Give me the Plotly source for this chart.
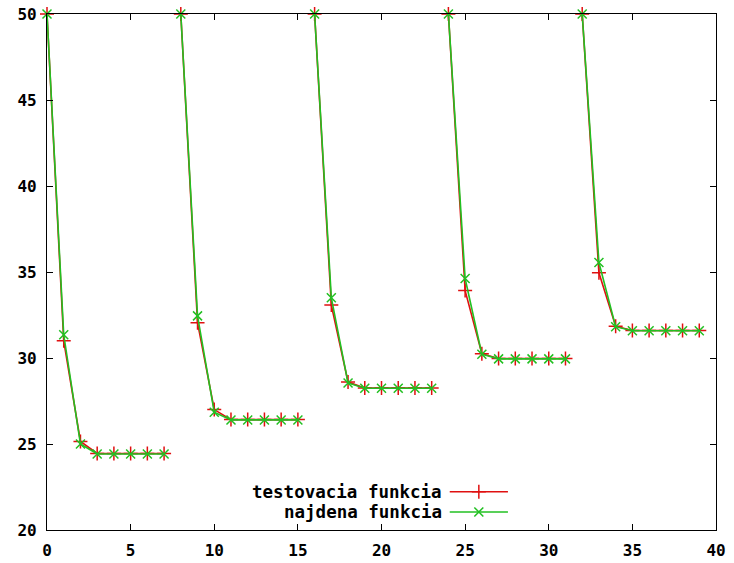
import plotly.graph_objects as go

# data: 5 runs of 8 iterations each
x_runs = [list(range(0, 8)), list(range(8, 16)), list(range(16, 24)),
          list(range(24, 32)), list(range(32, 40))]
test_runs = [
    [50, 31.0, 25.15, 24.45, 24.45, 24.45, 24.45, 24.45],
    [50, 32.05, 27.0, 26.42, 26.42, 26.42, 26.42, 26.42],
    [50, 33.08, 28.6, 28.25, 28.25, 28.25, 28.25, 28.25],
    [50, 33.92, 30.25, 29.97, 29.97, 29.97, 29.97, 29.97],
    [50, 34.95, 31.85, 31.6, 31.6, 31.6, 31.6, 31.6],
]
found_runs = [
    [50, 31.35, 25.0, 24.42, 24.42, 24.42, 24.42, 24.42],
    [50, 32.45, 26.85, 26.4, 26.4, 26.4, 26.4, 26.4],
    [50, 33.5, 28.55, 28.24, 28.24, 28.24, 28.24, 28.24],
    [50, 34.62, 30.22, 29.95, 29.95, 29.95, 29.95, 29.95],
    [50, 35.55, 31.82, 31.58, 31.58, 31.58, 31.58, 31.58],
]
series_names = ["testovacia funkcia", "najdena funkcia"]
x_ticks = [0, 5, 10, 15, 20, 25, 30, 35, 40]
y_ticks = [20, 25, 30, 35, 40, 45, 50]

RED = "#e01010"
GREEN = "#22c022"
TICKFONT = dict(family="DejaVu Sans Mono", size=16, color="black", weight="bold")
LEGFONT = dict(family="DejaVu Sans Mono", size=17.5, color="black", weight="bold")


def join(runs):
    out = []
    for i, r in enumerate(runs):
        if i:
            out.append(None)
        out.extend(r)
    return out


xs = join(x_runs)
fig = go.Figure()
fig.add_trace(go.Scatter(x=xs, y=join(test_runs), mode="lines+markers",
                         line=dict(color=RED, width=1.6),
                         marker=dict(symbol="cross-thin-open", size=10, color=RED,
                                     line=dict(color=RED, width=1.5)),
                         connectgaps=False, showlegend=False, cliponaxis=False))
fig.add_trace(go.Scatter(x=xs, y=join(found_runs), mode="lines+markers",
                         line=dict(color=GREEN, width=1.6),
                         marker=dict(symbol="x-thin-open", size=9, color=GREEN,
                                     line=dict(color=GREEN, width=1.5)),
                         connectgaps=False, showlegend=False, cliponaxis=False))

# gnuplot-style legend: text, then sample on the right (on overlay axes 0..1)
leg_y = [0.074, 0.035]
leg_cols = [RED, GREEN]
leg_syms = ["cross-thin-open", "x-thin-open"]
leg_sizes = [10, 9]
for name, yy, c, s, sz in zip(series_names, leg_y, leg_cols, leg_syms, leg_sizes):
    fig.add_trace(go.Scatter(x=[0.602, 0.689], y=[yy, yy], mode="lines",
                             line=dict(color=c, width=1.6), xaxis="x2", yaxis="y2",
                             showlegend=False, hoverinfo="skip"))
    fig.add_trace(go.Scatter(x=[0.6455], y=[yy], mode="markers",
                             marker=dict(symbol=s, size=sz, color=c,
                                         line=dict(color=c, width=1.5)),
                             xaxis="x2", yaxis="y2", showlegend=False, hoverinfo="skip"))
    fig.add_annotation(x=0.593, y=yy, xref="x2", yref="y2", text=name,
                       showarrow=False, xanchor="right", yanchor="middle", font=LEGFONT)

axis_common = dict(showgrid=False, zeroline=False, showline=True, linecolor="black",
                   linewidth=1.3, mirror="ticks", ticks="inside", ticklen=6,
                   tickwidth=1.3, tickcolor="black", tickfont=TICKFONT, automargin=False,
                   ticklabeloverflow="allow")
fig.update_layout(
    width=734, height=563,
    margin=dict(l=47, r=18, t=14, b=33),
    paper_bgcolor="white", plot_bgcolor="white",
    xaxis=dict(range=[0, 40], tickvals=x_ticks, ticklabelstandoff=6, **axis_common),
    yaxis=dict(range=[20, 50], tickvals=y_ticks, ticklabelstandoff=6, **axis_common),
    xaxis2=dict(range=[0, 1], overlaying="x", visible=False),
    yaxis2=dict(range=[0, 1], overlaying="y", visible=False),
)
# remove the default 8px page margin so the figure fills the window exactly
fig.write_html("out.html",
               config={"displayModeBar": False},
               post_script="document.body.style.margin='0';"
                           "document.body.style.overflow='hidden';")
